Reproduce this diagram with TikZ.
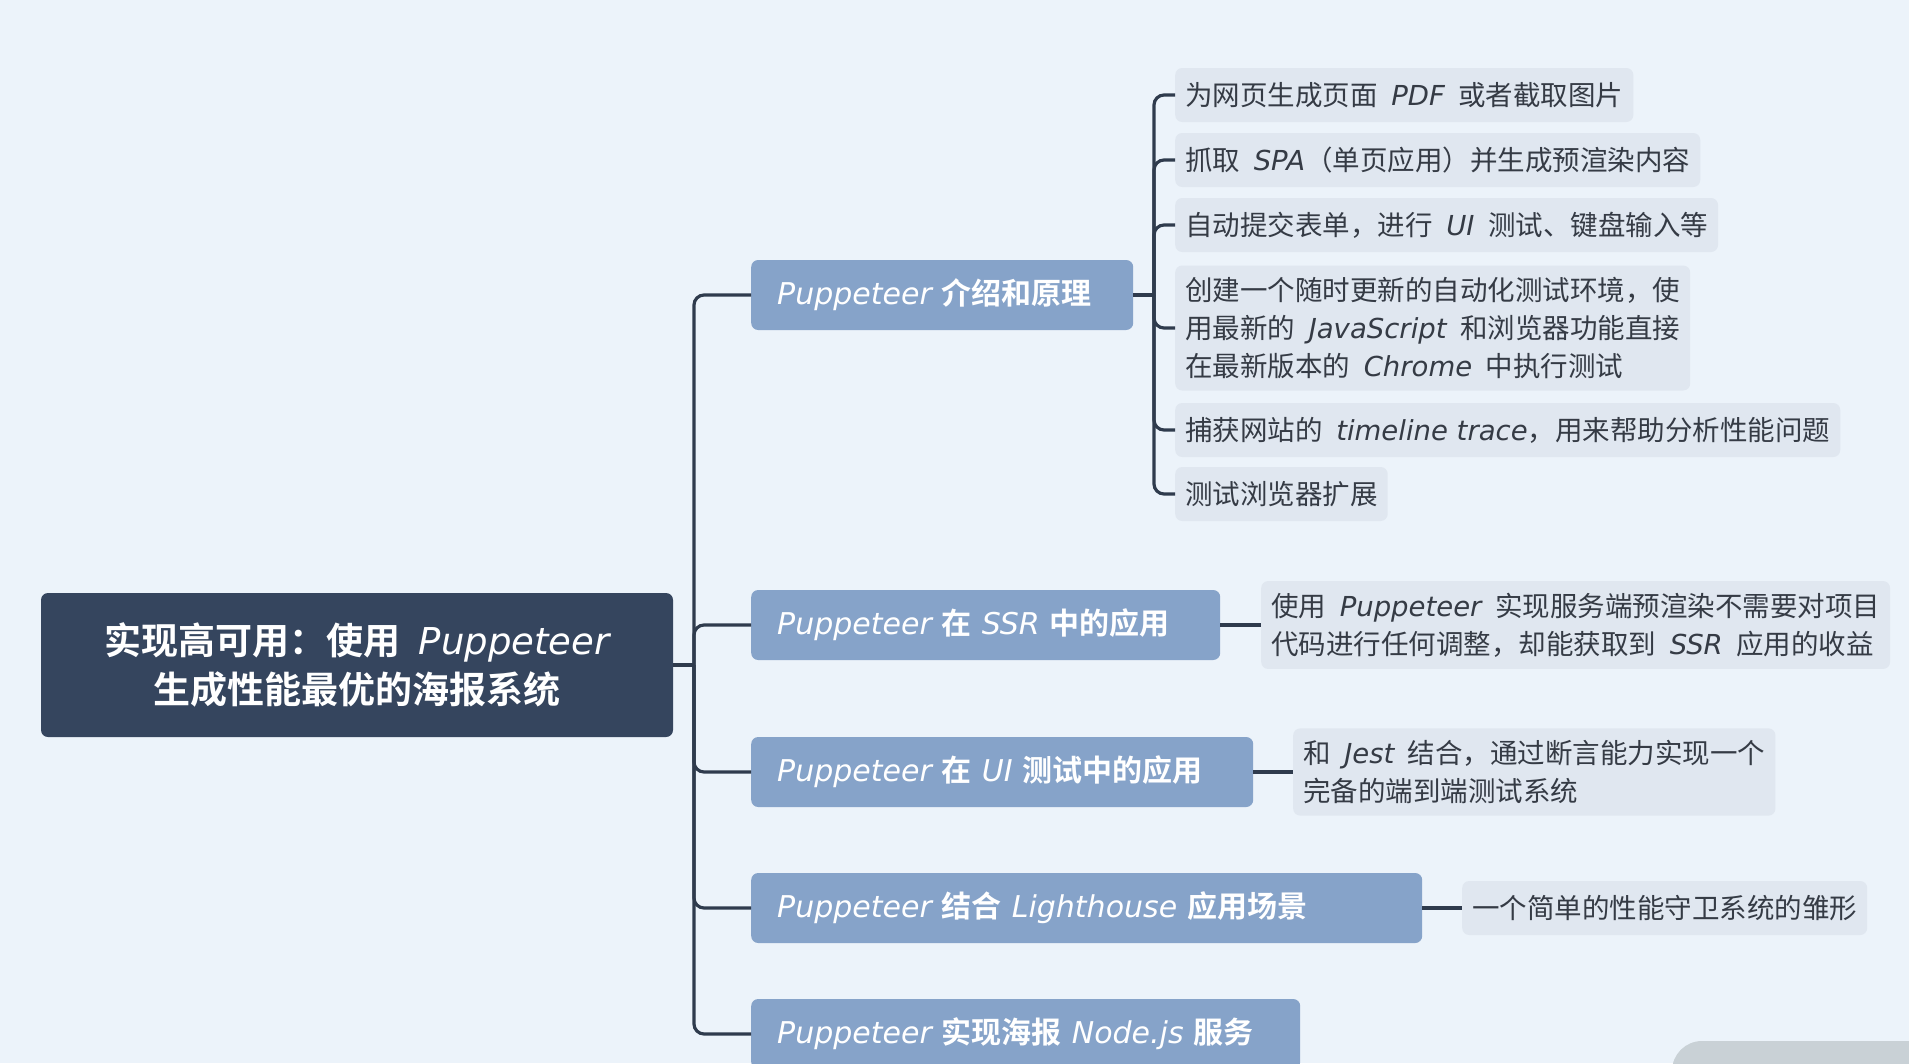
\documentclass[tikz,border=0pt]{standalone}
\usepackage{fontspec}
\usepackage{xcolor}
\setmainfont{Noto Sans CJK SC}[BoldFont={Noto Sans CJK SC Bold}, WordSpace=2.2]
\newfontfamily\enfont{DejaVu Sans}
\newcommand{\en}[1]{{\enfont\mdseries\itshape #1}}

\definecolor{bgcol}{HTML}{ECF3FA}
\definecolor{rootcol}{HTML}{35455E}
\definecolor{topiccol}{HTML}{86A3C9}
\definecolor{leafcol}{HTML}{E0E7F0}
\definecolor{leaftext}{HTML}{353B45}
\definecolor{linecol}{HTML}{2F3B4D}
\definecolor{wmcol}{HTML}{C9D1D6}

\tikzset{
  rootbox/.style={fill=rootcol, rounded corners=7pt, text=white, align=center,
    font=\fontsize{37}{49}\selectfont\bfseries, minimum width=632pt, minimum height=144pt, inner sep=0pt},
  topicbox/.style={fill=topiccol, rounded corners=7pt, text=white, anchor=west, align=left,
    font=\fontsize{30}{35}\selectfont\bfseries, minimum height=70pt, inner xsep=26pt, inner ysep=0pt},
  leafbox/.style={fill=leafcol, rounded corners=7pt, text=leaftext, anchor=west, align=left,
    font=\fontsize{27.5}{37.7}\selectfont, minimum height=54pt, inner xsep=10pt, inner ysep=12pt},
  conn/.style={draw=linecol, line width=3.2pt, rounded corners=10pt},
}

\begin{document}
\begin{tikzpicture}[x=1pt,y=-1pt]
% Background
\fill[bgcol] (0,0) rectangle (1909,1063);
\clip (0,0) rectangle (1909,1063);
\fill[wmcol, rounded corners=30pt] (1672,1041) rectangle (1980,1110);

% Root and topics
\node[rootbox] (root) at (357,665) {实现高可用：使用 \en{Puppeteer}\\生成性能最优的海报系统};
\node[topicbox, text width=330pt] (t1) at (751,295) {\en{Puppeteer} 介绍和原理};
\node[topicbox, text width=417pt] (t2) at (751,625) {\en{Puppeteer} 在 \en{SSR} 中的应用};
\node[topicbox, text width=450pt] (t3) at (751,772) {\en{Puppeteer} 在 \en{UI} 测试中的应用};
\node[topicbox, text width=619pt] (t4) at (751,908) {\en{Puppeteer} 结合 \en{Lighthouse} 应用场景};
\node[topicbox, text width=497pt] (t5) at (751,1034) {\en{Puppeteer} 实现海报 \en{Node.js} 服务};

% Trunk
\coordinate (trunk) at (694,665);
\draw[conn] (root.east) -- (trunk);
\foreach \n in {t1,t2,t3,t4,t5} {
    \draw[conn] (trunk) |- (\n.west);
}

% Leaves of the first topic
\coordinate (br) at (1154,295);
\draw[conn] (t1.east) -- (br);
\foreach \i/\y/\t in {
    1/95/{为网页生成页面 \en{PDF} 或者截取图片},
    2/160/{抓取 \en{SPA}（单页应用）并生成预渲染内容},
    3/225/{自动提交表单，进行 \en{UI} 测试、键盘输入等},
    4/328/{创建一个随时更新的自动化测试环境，使\\用最新的 \en{JavaScript} 和浏览器功能直接\\在最新版本的 \en{Chrome} 中执行测试},
    5/430/{捕获网站的 \en{timeline trace}，用来帮助分析性能问题},
    6/494/{测试浏览器扩展}} {
    \node[leafbox] (a\i) at (1175,\y) {\t};
    \draw[conn] (br) |- (a\i.west);
}

% Leaves of the other topics
\node[leafbox] (b1) at (1261,625) {使用 \en{Puppeteer} 实现服务端预渲染不需要对项目\\代码进行任何调整，却能获取到 \en{SSR} 应用的收益};
\node[leafbox] (c1) at (1293,772) {和 \en{Jest} 结合，通过断言能力实现一个\\完备的端到端测试系统};
\node[leafbox] (d1) at (1462,908) {一个简单的性能守卫系统的雏形};
\draw[conn] (t2.east) -- (b1.west);
\draw[conn] (t3.east) -- (c1.west);
\draw[conn] (t4.east) -- (d1.west);
\end{tikzpicture}
\end{document}
